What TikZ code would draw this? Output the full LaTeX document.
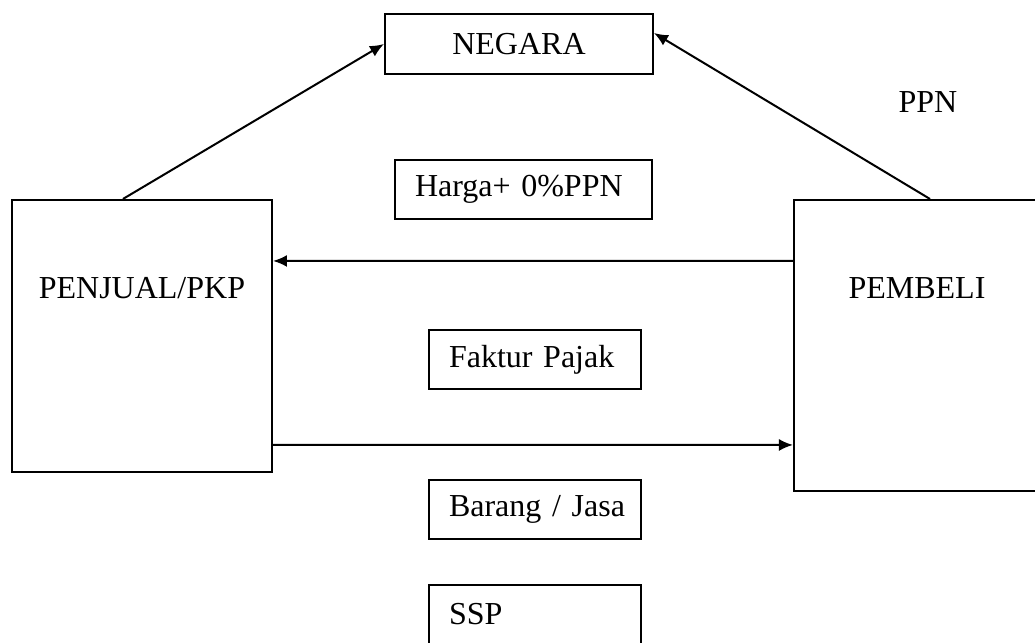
\documentclass[tikz,border=0pt]{standalone}
\usepackage{fontspec}
\setmainfont{Liberation Serif}
\usepackage{tikz}
\usetikzlibrary{shapes,arrows,arrows.meta,positioning}
\tikzstyle{negara} = [draw, line width=1pt, text centered, minimum width=134pt, minimum height=30pt]
\tikzstyle{pihak} = [draw, line width=1pt, text centered, text height=11pt, inner sep=0pt]
\tikzstyle{keterangan} = [draw, line width=1pt, align=left, inner xsep=10pt, inner ysep=0pt, minimum height=29.5pt]
\tikzstyle{arrow} = [draw, line width=1pt, -{Latex[length=7pt,width=6pt]}]
\newcommand{\negara}[2]{node (n#1) [negara] {#2}}
\newcommand{\pihak}[3]{node (p#1) [pihak,#2] {#3}}
\newcommand{\keterangan}[3]{node (k#1) [keterangan,#2] {\mbox{#3}}}

\begin{document}
\begin{tikzpicture}[font=\fontsize{16}{18}\selectfont]
\useasboundingbox (-9.12,0.773) rectangle (9.068,-10.509);
\path (0,0) \negara{1}{NEGARA};
\path (n1)+(0.08,-2.56) \keterangan{1}{text width=108.5pt}{Harga+ 0\%PPN};
\path (n1)+(-6.625,-5.131) \pihak{1}{minimum width=130pt, minimum height=136pt, text depth=48pt}{PENJUAL/PKP};
\path (n1)+(6.994,-5.298) \pihak{2}{minimum width=123pt, minimum height=145.5pt, text depth=57.5pt}{PEMBELI};
\path (n1)+(7.187,-1.019) node (tppn) {PPN};
\path (k1)+(0.202,-2.987) \keterangan{2}{text width=86pt}{Faktur Pajak};
\path (k2)+(0,-2.636) \keterangan{3}{text width=86pt}{Barang / Jasa};
\path (k3)+(0,-1.836) \keterangan{4}{text width=86pt}{SSP};

\path [arrow] ([xshift=-9.5pt]p1.north) -- (n1.west);
\path [arrow] ([xshift=6.5pt]p2.north) -- ([yshift=5.5pt]n1.east);
\path [arrow] ([yshift=42.25pt]p2.west) -- ([yshift=37.5pt]p1.east);
\path [arrow] ([yshift=-54.5pt]p1.east) -- ([yshift=-49.75pt]p2.west);
\end{tikzpicture}
\end{document}
